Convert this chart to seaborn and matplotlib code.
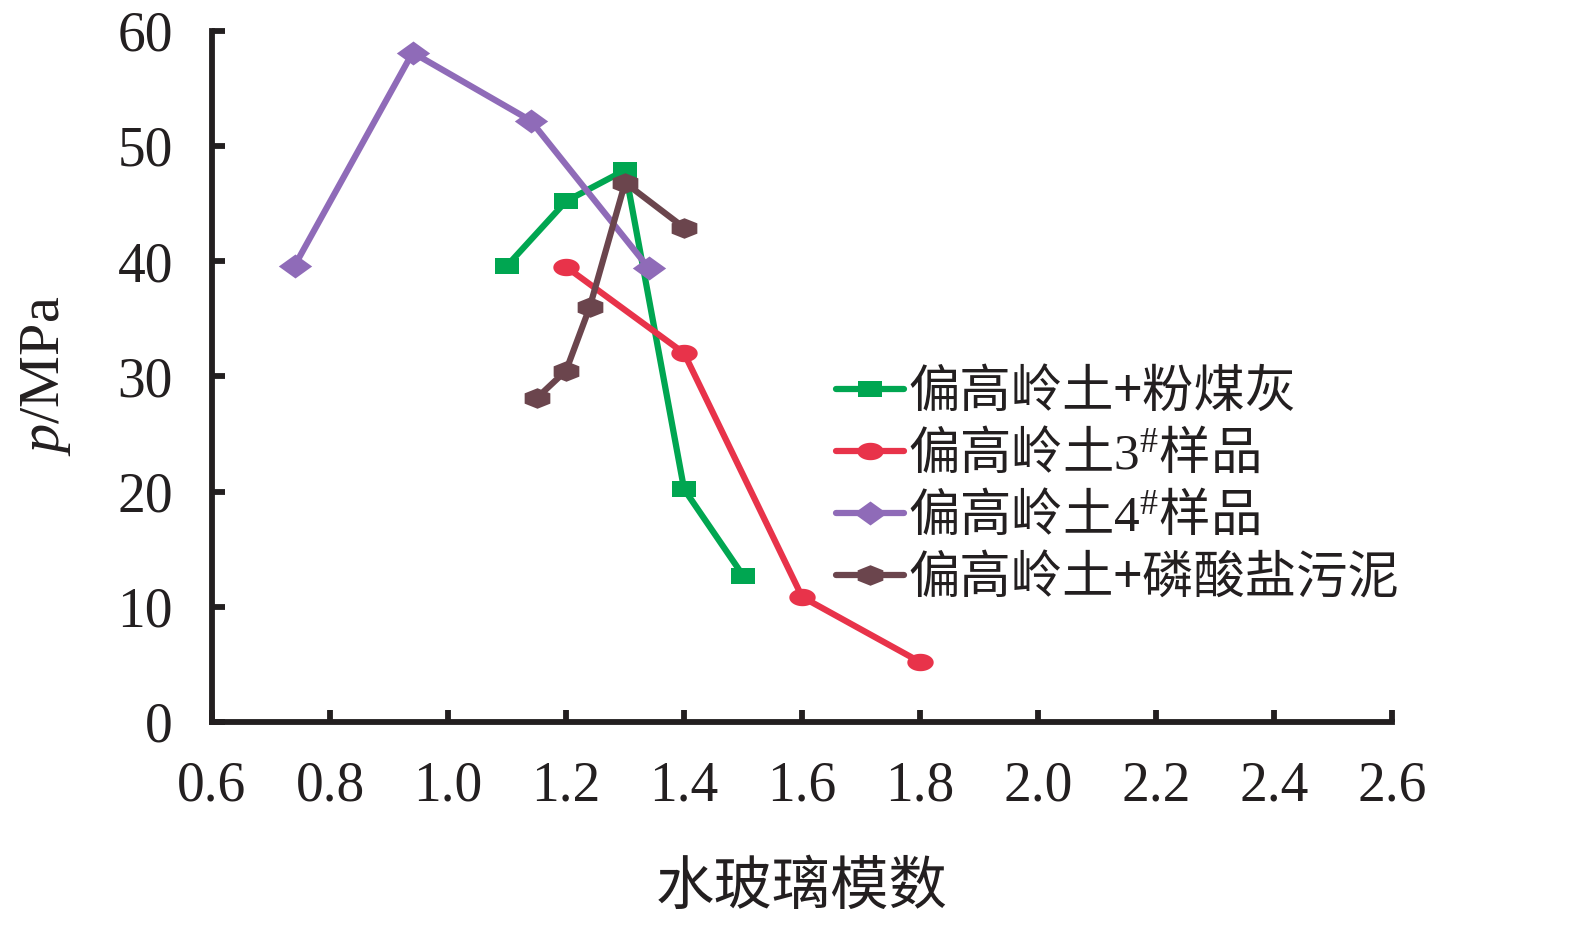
import numpy as np
import pandas as pd
import matplotlib
matplotlib.use("Agg")
import matplotlib.pyplot as plt
from matplotlib.path import Path
import seaborn as sns

# ---- data ----
series_names = ["偏高岭土+粉煤灰", r"偏高岭土$\mathrm{3}^{\mathrm{\#}}$样品",
                r"偏高岭土$\mathrm{4}^{\mathrm{\#}}$样品", "偏高岭土+磷酸盐污泥"]
x_flyash = [1.1, 1.2, 1.3, 1.4, 1.5]
y_flyash = [39.6, 45.2, 47.9, 20.2, 12.7]
x_s3 = [1.2, 1.4, 1.6, 1.8]
y_s3 = [39.5, 32.0, 10.85, 5.2]
x_s4 = [0.74, 0.94, 1.14, 1.34]
y_s4 = [39.6, 58.1, 52.2, 39.4]
x_sludge = [1.15, 1.2, 1.24, 1.3, 1.4]
y_sludge = [28.1, 30.5, 36.0, 46.8, 42.9]
x_ticks = [0.6, 0.8, 1.0, 1.2, 1.4, 1.6, 1.8, 2.0, 2.2, 2.4, 2.6]
y_ticks = [0, 10, 20, 30, 40, 50, 60]
colors = ["#00A651", "#E8334A", "#8F6BB8", "#6B454D"]

sns.set_theme(style="white")
plt.rcParams["font.family"] = ["Liberation Serif", "Noto Sans CJK SC", "DejaVu Sans"]
plt.rcParams["mathtext.fontset"] = "custom"
plt.rcParams["mathtext.rm"] = "Liberation Serif"
plt.rcParams["mathtext.it"] = "Liberation Serif:italic"
plt.rcParams["axes.unicode_minus"] = False

# horizontally stretched marker shapes
def poly(pts):
    pts = list(pts) + [pts[0]]
    codes = [Path.MOVETO] + [Path.LINETO] * (len(pts) - 2) + [Path.CLOSEPOLY]
    return Path(pts, codes)

sq = poly([(-0.5, -0.33), (0.5, -0.33), (0.5, 0.33), (-0.5, 0.33)])
t = np.linspace(0, 2 * np.pi, 60, endpoint=False)
ell = poly(list(zip(0.5 * np.cos(t), 0.33 * np.sin(t))))
dia = poly([(-0.5, 0), (0, 0.36), (0.5, 0), (0, -0.36)])
a = np.deg2rad(np.arange(90, 450, 60))
hexm = poly(list(zip(0.5 * np.cos(a) / 0.866, 0.40 * np.sin(a))))
markers = [sq, ell, dia, hexm]
msizes = [17.5, 19, 24, 18.5]

fig = plt.figure(figsize=(15.75, 9.3), dpi=100)
ax = fig.add_axes([0.1346, 0.2237, 0.884 - 0.1346, 0.967 - 0.2237])

data = [(x_flyash, y_flyash), (x_s3, y_s3), (x_s4, y_s4), (x_sludge, y_sludge)]
for i, (xs, ys) in enumerate(data):
    df = pd.DataFrame({"x": xs, "y": ys})
    sns.lineplot(data=df, x="x", y="y", ax=ax, color=colors[i], marker=markers[i],
                 markersize=msizes[i], markeredgewidth=0, linewidth=4.5,
                 label=series_names[i], sort=False)

ax.set_xlim(0.6, 2.6)
ax.set_ylim(0, 60)
ax.set_xticks(x_ticks)
ax.set_xticklabels([f"{v:.1f}" for v in x_ticks])
ax.set_yticks(y_ticks)
ax.set_yticklabels([str(v) for v in y_ticks])
for s in ["top", "right"]:
    ax.spines[s].set_visible(False)
for s in ["left", "bottom"]:
    ax.spines[s].set_linewidth(4.2)
    ax.spines[s].set_color("#231F20")
ax.tick_params(axis="both", direction="in", length=9, width=4.2, color="#231F20",
               labelsize=40, labelcolor="#231F20", pad=28,
               bottom=True, left=True, top=False, right=False)
for lab in ax.get_xticklabels() + ax.get_yticklabels():
    lab.set_family("Liberation Serif")

ax.set_xlabel("水玻璃模数", fontsize=42, family="Noto Sans CJK SC", color="#231F20")
ax.xaxis.set_label_coords(0.5, -0.195)
ax.set_ylabel("$p$/MPa", fontsize=42, family="Liberation Serif", color="#231F20")
ax.yaxis.set_label_coords(-0.118, 0.5)

leg = ax.legend(loc="upper left", bbox_to_anchor=(836 / 1575, 1 - 365 / 930),
                bbox_transform=fig.transFigure, frameon=False, borderpad=0,
                borderaxespad=0, handlelength=1.32, handletextpad=0.08,
                labelspacing=0.17, numpoints=1,
                prop={"family": "Noto Sans CJK SC", "size": 37})
for txt in leg.get_texts():
    txt.set_color("#231F20")

fig.savefig("out.png", dpi=100)
